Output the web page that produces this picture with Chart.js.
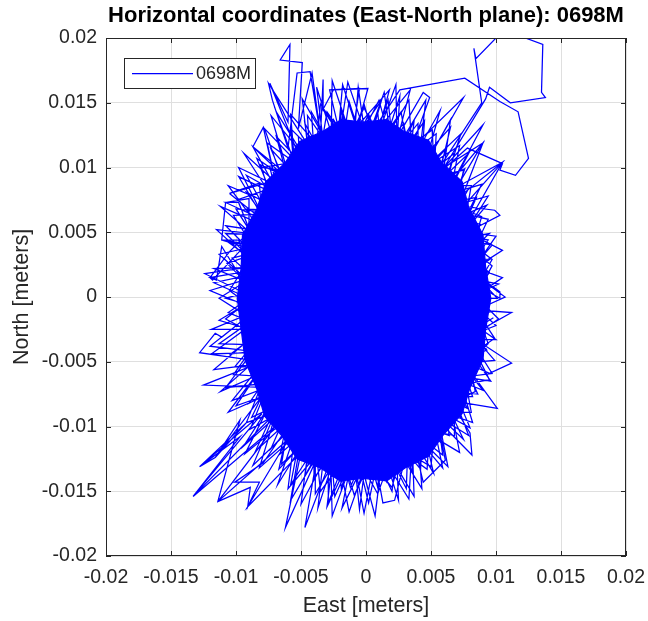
<!DOCTYPE html>
<html><head><meta charset="utf-8">
<script src="https://cdn.jsdelivr.net/npm/chart.js@4.4.0/dist/chart.umd.min.js"></script>
<style>html,body{margin:0;padding:0;background:#fff;}canvas{display:block;}</style>
</head><body>
<canvas id="c" width="648" height="621"></canvas>
<script>
const seriesLabel = '0698M';
const titleText = 'Horizontal coordinates (East-North plane): 0698M';
const xAxisTitle = 'East [meters]';
const yAxisTitle = 'North [meters]';
const xTickValues = [-0.02,-0.015,-0.01,-0.005,0,0.005,0.01,0.015,0.02];
const xTickLabels = ['-0.02','-0.015','-0.01','-0.005','0','0.005','0.01','0.015','0.02'];
const yTickValues = [-0.02,-0.015,-0.01,-0.005,0,0.005,0.01,0.015,0.02];
const yTickLabels = ['-0.02','-0.015','-0.01','-0.005','0','0.005','0.01','0.015','0.02'];

// track segments (meters)
const lap1East = [-0.0030,-0.0111,-0.0108,-0.0090,-0.0090,-0.0118,-0.0120,-0.0105,-0.0080,-0.0105,
-0.0099,-0.0070,-0.0087,-0.0065,-0.0080,-0.0050,-0.0074,-0.0060,-0.00585,-0.0066,
-0.0049,-0.0052,-0.00415,-0.0035,-0.0033,-0.0033,-0.0025,0.00015,-0.0010,0.0012,
0.0005,0.0026,0.0076,0.0103,0.0117,0.0125,0.0115,0.0103,0.0105,0.0078,
0.0050,0.0089,0.0083,0.00845,0.0101,0.0120,0.0136,0.0135,0.0138,0.0111,
0.0095,0.0092,0.0060,0.0090,0.0070,0.0105,0.0075,0.0099,0.0103,0.0078,
0.0105,0.0080,0.0107,0.0085,0.0112,0.0080,0.0112,0.0095,0.0075,0.0101,
0.0065,0.0080,0.00815,0.0055,0.0061,0.0044,0.0035,0.0022,0.0013,0.0005,
-0.00185,-0.0010,-0.0030,-0.0025,-0.0047,-0.0038,-0.0062,-0.0050,-0.0091,-0.0060,
-0.0114,-0.0070,-0.0133,-0.0080,-0.0128,-0.0116,-0.0075,-0.0125,-0.0080,-0.0128,
-0.0116,-0.0111,-0.0085,-0.0105];
const lap1North = [0.0020,0.0044,0.0073,0.0076,0.0043,0.0013,0.0015,0.0035,0.0060,0.0080,
0.0075,0.0085,0.0116,0.0098,0.0100,0.0105,0.0165,0.0135,0.0195,0.0183,
0.0181,0.0130,0.0173,0.0125,0.0168,0.0145,0.0160,0.0161,0.0120,0.0152,
0.0128,0.0160,0.0169,0.0151,0.0143,0.0107,0.0094,0.0098,0.0103,0.0115,
0.0090,0.0150,0.0192,0.0184,0.0201,0.0201,0.0195,0.0158,0.0154,0.0150,
0.0162,0.0153,0.0100,0.0119,0.0085,0.0104,0.0070,0.0067,0.0063,0.0050,
0.0036,0.0020,0.0000,-0.0010,-0.0012,-0.0030,-0.0051,-0.0059,-0.0050,-0.0086,
-0.0080,-0.0105,-0.0122,-0.0095,-0.0126,-0.0143,-0.0105,-0.0157,-0.0159,-0.0115,
-0.0163,-0.0120,-0.0162,-0.0120,-0.0178,-0.0125,-0.0178,-0.0120,-0.0162,-0.0110,
-0.0158,-0.0100,-0.0154,-0.0090,-0.0131,-0.0124,-0.0070,-0.0068,-0.0050,-0.0043,
-0.0028,-0.0031,-0.0010,0.0005];

const lap7East = [-0.0040,-0.0075,-0.0072,-0.0060,-0.0053,-0.0043,-0.0035,-0.0033,-0.0034,-0.0020,
-0.0028,-0.0005,-0.0010,0.0018,0.0010,0.0034,0.0025,0.0044,0.0049,0.0035,
0.0075,0.0050,0.0065,0.0060,0.0090,0.0070,0.0090,0.0075,0.0105,0.0080,
0.0020,-0.0065,-0.0087,-0.0079,-0.0070,-0.0105,-0.0082,-0.0080,-0.0108,-0.0098,
-0.0085,-0.0111,-0.0098,-0.0090,-0.0120,-0.0115,-0.0111,-0.0090];
const lap7North = [0.0110,0.0165,0.0152,0.0115,0.0173,0.0174,0.0125,0.0168,0.0146,0.0125,
0.0160,0.0161,0.0128,0.0160,0.0130,0.0160,0.0125,0.0158,0.0154,0.0115,
0.0154,0.0110,0.0137,0.0100,0.0133,0.0095,0.0119,0.0080,0.0104,0.0060,
0.0080,0.0095,0.0116,0.0131,0.0090,0.0080,0.0088,0.0060,0.0073,0.0073,
0.0040,0.0044,0.0044,0.0020,0.0015,0.0013,0.0039,0.0005];

const lap8East = [-0.0070,-0.0133,-0.0097,-0.0128,-0.0092,-0.0116,-0.0097,-0.0114,-0.0089,-0.0091,-0.0082,-0.0101,-0.0079,-0.0060];
const lap8North = [-0.0090,-0.0154,-0.0108,-0.0131,-0.0097,-0.0124,-0.0095,-0.0158,-0.0147,-0.0162,-0.0143,-0.0143,-0.0128,-0.0100];

const lap2East = [0.0078,0.0102,0.0077,0.0095,0.0074,0.0095,0.0071,0.0093,0.0065,0.0078,
0.0059,0.0079,0.0051,0.0062,0.0043,0.0057,0.0033,0.0037,0.0023,0.0026,
0.0012,0.0009,0.0001,-0.0006,-0.0010,-0.0019,-0.0021,-0.0038,-0.0031,-0.0047,
-0.0041,-0.0069,-0.0050,-0.0073,-0.0058,-0.0094,-0.0065,-0.0092,-0.0071,-0.0112,
-0.0076,-0.0107,-0.0079,-0.0117,-0.0080,-0.0108,-0.0080,-0.0119,-0.0079,-0.0104,
-0.0076,-0.0112,-0.0071,-0.0090,-0.0065,-0.0094,-0.0058,-0.0073,-0.0050,-0.0068,
-0.0041,-0.0047,-0.0031,-0.0037,-0.0021,-0.0019,-0.0010,-0.0005,0.0001,0.0009,
0.0012,0.0025,0.0023,0.0036,0.0033,0.0052,0.0043,0.0059,0.0051,0.0075,
0.0059,0.0078,0.0065,0.0090,0.0071,0.0090,0.0074,0.0100,0.0077,0.0097];
const lap2North = [-0.0001,0.0010,0.0015,0.0029,0.0030,0.0049,0.0045,0.0071,0.0059,0.0082,
0.0072,0.0111,0.0084,0.0115,0.0094,0.0144,0.0101,0.0136,0.0107,0.0155,
0.0111,0.0143,0.0113,0.0162,0.0112,0.0144,0.0109,0.0162,0.0105,0.0134,
0.0098,0.0143,0.0089,0.0114,0.0078,0.0111,0.0066,0.0081,0.0052,0.0070,
0.0038,0.0043,0.0023,0.0022,0.0007,-0.0001,-0.0009,-0.0025,-0.0025,-0.0044,
-0.0041,-0.0073,-0.0055,-0.0082,-0.0069,-0.0115,-0.0082,-0.0117,-0.0092,-0.0145,
-0.0101,-0.0138,-0.0109,-0.0163,-0.0114,-0.0148,-0.0116,-0.0164,-0.0117,-0.0147,
-0.0115,-0.0157,-0.0111,-0.0135,-0.0105,-0.0136,-0.0097,-0.0114,-0.0087,-0.0110,
-0.0076,-0.0086,-0.0062,-0.0072,-0.0048,-0.0050,-0.0033,-0.0033,-0.0017,-0.0011];

const lap3East = [0.0088,0.0099,0.0084,0.0095,0.0077,0.0081,0.0066,0.0072,0.0052,0.0050,
0.0035,0.0033,0.0017,0.0009,-0.00015,-0.0013,-0.0020,-0.0035,-0.0038,-0.0060,
-0.0055,-0.0082,-0.0069,-0.0092,-0.0080,-0.0108,-0.0087,-0.0120,-0.0091,-0.0113,
-0.0091,-0.0113,-0.0087,-0.0102,-0.0080,-0.0098,-0.0069,-0.0076,-0.0055,-0.0058,
-0.0038,-0.0035,-0.0020,-0.0014,-0.00015,0.0010,0.0017,0.0033,0.0035,0.0051,
0.0052,0.0072,0.0066,0.0081,0.0077,0.0094,0.0084,0.0097,0.0088,0.0101];
const lap3North = [-0.0015,-0.0032,-0.0042,-0.0064,-0.0067,-0.0089,-0.0089,-0.0120,-0.0108,-0.0131,
-0.0122,-0.0156,-0.0130,-0.0152,-0.0133,-0.0166,-0.0130,-0.0150,-0.0122,-0.0148,
-0.0108,-0.0132,-0.0089,-0.0097,-0.0067,-0.0070,-0.0042,-0.0038,-0.0015,-0.0001,
0.0013,0.0033,0.0039,0.0063,0.0064,0.0100,0.0086,0.0119,0.0104,0.0141,
0.0118,0.0149,0.0126,0.0166,0.0129,0.0152,0.0126,0.0152,0.0118,0.0129,
0.0104,0.0117,0.0086,0.0086,0.0064,0.0060,0.0039,0.0029,0.0013,-0.0001];

const lap4East = [0.0087,0.0100,0.0085,0.0093,0.0082,0.0096,0.0077,0.0082,0.0070,0.0080,
0.0062,0.0064,0.0053,0.0059,0.0043,0.0042,0.0032,0.0031,0.0020,0.0016,
0.0008,0.0002,-0.0005,-0.0012,-0.0017,-0.0029,-0.0029,-0.0040,-0.0040,-0.0058,
-0.0051,-0.0066,-0.0061,-0.0085,-0.0069,-0.0088,-0.0077,-0.0103,-0.0082,-0.0101,
-0.0087,-0.0113,-0.0089,-0.0106,-0.0090,-0.0117,-0.0089,-0.0103,-0.0087,-0.0108,
-0.0082,-0.0092,-0.0077,-0.0092,-0.0069,-0.0074,-0.0061,-0.0069,-0.0051,-0.0052,
-0.0040,-0.0042,-0.0029,-0.0025,-0.0017,-0.0013,-0.0005,0.0002,0.0008,0.0017,
0.0020,0.0029,0.0032,0.0045,0.0043,0.0053,0.0053,0.0068,0.0062,0.0073,
0.0070,0.0085,0.0077,0.0088,0.0082,0.0097,0.0085,0.0095,0.0087,0.0103];
const lap4North = [-0.0010,-0.0022,-0.0028,-0.0041,-0.0045,-0.0065,-0.0062,-0.0077,-0.0077,-0.0101,
-0.0091,-0.0107,-0.0103,-0.0132,-0.0113,-0.0133,-0.0121,-0.0148,-0.0126,-0.0143,
-0.0130,-0.0159,-0.0130,-0.0147,-0.0128,-0.0159,-0.0124,-0.0140,-0.0117,-0.0145,
-0.0108,-0.0121,-0.0097,-0.0119,-0.0084,-0.0093,-0.0070,-0.0080,-0.0054,-0.0054,
-0.0037,-0.0036,-0.0019,-0.0012,-0.0001,0.0011,0.0017,0.0030,0.0034,0.0055,
0.0051,0.0068,0.0067,0.0094,0.0081,0.0100,0.0094,0.0124,0.0105,0.0124,
0.0113,0.0143,0.0120,0.0137,0.0124,0.0151,0.0126,0.0141,0.0126,0.0152,
0.0123,0.0134,0.0117,0.0136,0.0109,0.0116,0.0099,0.0111,0.0088,0.0090,
0.0074,0.0077,0.0059,0.0056,0.0043,0.0040,0.0026,0.0019,0.0008,-0.0001];

const lap5East = [0.0082,0.0105,0.0080,0.0094,0.0075,0.0094,0.0066,0.0076,0.0055,0.0065,
0.0040,0.0040,0.0024,0.0023,0.0007,-0.00015,-0.0010,-0.0026,-0.0027,-0.0045,
-0.0043,-0.0073,-0.0058,-0.0084,-0.0069,-0.0106,-0.0078,-0.0108,-0.0083,-0.0124,
-0.0085,-0.0113,-0.0083,-0.0117,-0.0078,-0.0100,-0.0069,-0.0093,-0.0058,-0.0067,
-0.0043,-0.0050,-0.0027,-0.0024,-0.0010,-0.00015,0.0007,0.0020,0.0024,0.0043,
0.0040,0.0059,0.0055,0.0079,0.0066,0.0086,0.0075,0.0099,0.0080,0.0098];
const lap5North = [-0.0001,0.0015,0.0024,0.0044,0.0048,0.0078,0.0070,0.0099,0.0089,0.0131,
0.0103,0.0134,0.0114,0.0164,0.0119,0.0149,0.0119,0.0167,0.0114,0.0140,
0.0103,0.0140,0.0089,0.0107,0.0070,0.0086,0.0048,0.0049,0.0024,0.0018,
-0.0001,-0.0018,-0.0027,-0.0056,-0.0051,-0.0084,-0.0073,-0.0121,-0.0092,-0.0133,
-0.0107,-0.0160,-0.0117,-0.0154,-0.0123,-0.0167,-0.0123,-0.0150,-0.0117,-0.0148,
-0.0107,-0.0122,-0.0092,-0.0107,-0.0073,-0.0075,-0.0051,-0.0049,-0.0027,-0.0016];

const lap6East = [0.0103,0.0091,0.0097,0.0089,0.0100,0.0085,0.0089,0.0079,0.0089,0.0072,
0.0075,0.0063,0.0073,0.0053,0.0054,0.0042,0.0046,0.0030,0.0027,0.0018,
0.0014,0.0005,-0.00015,-0.0008,-0.0018,-0.0021,-0.0030,-0.0033,-0.0049,-0.0045,
-0.0058,-0.0056,-0.0078,-0.0066,-0.0081,-0.0075,-0.0098,-0.0082,-0.0100,-0.0088,
-0.0115,-0.0092,-0.0107,-0.0094,-0.0120,-0.0094,-0.0108,-0.0093,-0.0119,-0.0090,
-0.0102,-0.0085,-0.0106,-0.0079,-0.0089,-0.0071,-0.0087,-0.0061,-0.0065,-0.0051,
-0.0058,-0.0039,-0.0039,-0.0027,-0.0026,-0.0014,-0.0009,-0.00015,0.0007,0.0011,
0.0020,0.0024,0.0037,0.0036,0.0047,0.0048,0.0063,0.0058,0.0068,0.0068,
0.0082,0.0076,0.0084,0.0082,0.0097,0.0087,0.0094,0.0090,0.0102,0.0091];
const lap6North = [0.0004,0.0013,0.0024,0.0031,0.0047,0.0049,0.0062,0.0066,0.0087,0.0082,
0.0098,0.0095,0.0126,0.0107,0.0126,0.0117,0.0152,0.0125,0.0143,0.0130,
0.0158,0.0133,0.0146,0.0133,0.0164,0.0130,0.0143,0.0125,0.0153,0.0117,
0.0130,0.0107,0.0130,0.0095,0.0102,0.0082,0.0093,0.0066,0.0068,0.0049,
0.0052,0.0031,0.0026,0.0013,0.0005,-0.0006,-0.0017,-0.0025,-0.0044,-0.0043,
-0.0060,-0.0061,-0.0089,-0.0077,-0.0102,-0.0092,-0.0130,-0.0105,-0.0129,-0.0116,
-0.0157,-0.0125,-0.0152,-0.0132,-0.0169,-0.0136,-0.0153,-0.0137,-0.0169,-0.0136,
-0.0147,-0.0132,-0.0154,-0.0125,-0.0133,-0.0116,-0.0131,-0.0105,-0.0107,-0.0092,
-0.0097,-0.0077,-0.0073,-0.0061,-0.0059,-0.0043,-0.0036,-0.0025,-0.0017,-0.0006];

// outline of the saturated core of the track (meters)
const coreEast = [0.0096,0.0092,0.0090,0.0079,0.0074,0.0058,0.0048,0.0029,0.0016,-0.0002,-0.0019,-0.0033,-0.0051,-0.0062,-0.0077,-0.0084,-0.0095,-0.0096,-0.0099,-0.0096,-0.0093,-0.0084,-0.0078,-0.0064,-0.0053,-0.0035,-0.0020,-0.0002,0.0016,0.0030,0.0048,0.0059,0.0074,0.0080,0.0090,0.0092,0.0096];
const coreNorth = [-0.0001,0.0023,0.0048,0.0069,0.0089,0.0104,0.0121,0.0128,0.0137,0.0135,0.0137,0.0128,0.0120,0.0104,0.0089,0.0068,0.0048,0.0023,-0.0001,-0.0025,-0.0049,-0.0071,-0.0092,-0.0108,-0.0125,-0.0132,-0.0142,-0.0140,-0.0142,-0.0132,-0.0123,-0.0107,-0.0090,-0.0070,-0.0048,-0.0025,-0.0001];

const pathEast = lap1East.concat(lap7East, lap8East, lap2East, lap4East, lap6East, lap3East, lap5East);
const pathNorth = lap1North.concat(lap7North, lap8North, lap2North, lap4North, lap6North, lap3North, lap5North);
const toPts = (xs, ys) => xs.map((v, i) => ({x: v, y: ys[i]}));

const FONT = '"Liberation Sans", Arial, Helvetica, sans-serif';
const TXT = '#262626';
const BLUE = '#0000ff';
const LW = 1.25;

const decor = {
  id: 'decor',
  afterDraw(chart) {
    const {ctx, chartArea: a, scales: {x, y}} = chart;
    ctx.save();
    ctx.strokeStyle = TXT; ctx.lineWidth = 1;
    ctx.beginPath();
    xTickValues.forEach(v => {
      const px = Math.round(x.getPixelForValue(v)) + 0.5;
      ctx.moveTo(px, a.bottom); ctx.lineTo(px, a.bottom - 5);
      ctx.moveTo(px, a.top); ctx.lineTo(px, a.top + 5);
    });
    yTickValues.forEach(v => {
      const py = Math.round(y.getPixelForValue(v)) + 0.5;
      ctx.moveTo(a.left, py); ctx.lineTo(a.left + 5, py);
      ctx.moveTo(a.right, py); ctx.lineTo(a.right - 5, py);
    });
    ctx.stroke();
    ctx.strokeRect(a.left + 0.5, a.top + 0.5, a.right - a.left - 1, a.bottom - a.top - 1);

    ctx.fillStyle = '#000';
    ctx.font = 'bold 22px ' + FONT;
    ctx.textAlign = 'center'; ctx.textBaseline = 'middle';
    ctx.fillText(titleText, (a.left + a.right) / 2, 16);

    ctx.fillStyle = TXT;
    ctx.font = '21.5px ' + FONT;
    ctx.fillText(xAxisTitle, (a.left + a.right) / 2, 606);
    ctx.save();
    ctx.translate(22, (a.top + a.bottom) / 2);
    ctx.rotate(-Math.PI / 2);
    ctx.fillText(yAxisTitle, 0, 0);
    ctx.restore();

    ctx.fillStyle = '#fff';
    ctx.fillRect(125, 59, 130, 29);
    ctx.strokeStyle = TXT; ctx.lineWidth = 1;
    ctx.strokeRect(124.5, 58.5, 131, 30);
    ctx.strokeStyle = BLUE; ctx.lineWidth = LW;
    ctx.beginPath(); ctx.moveTo(132, 73.5); ctx.lineTo(193, 73.5); ctx.stroke();
    ctx.fillStyle = TXT;
    ctx.font = '18px ' + FONT;
    ctx.textAlign = 'left';
    ctx.fillText(chart.data.datasets[0].label, 196, 74);
    ctx.restore();
  }
};

new Chart(document.getElementById('c'), {
  type: 'scatter',
  data: {
    datasets: [
      {label: seriesLabel, data: toPts(pathEast, pathNorth), showLine: true, borderColor: BLUE,
       borderWidth: LW, pointRadius: 0, pointHoverRadius: 0, fill: false, tension: 0, order: 0},
      {label: seriesLabel + ' core', data: toPts(coreEast, coreNorth), showLine: true, borderColor: BLUE,
       backgroundColor: BLUE, borderWidth: LW, pointRadius: 0, pointHoverRadius: 0, fill: 'shape', tension: 0, order: 1}
    ]
  },
  options: {
    responsive: false, animation: false, devicePixelRatio: 1,
    layout: {padding: {top: 38, right: 22, left: 0, bottom: 0}},
    plugins: {legend: {display: false}, tooltip: {enabled: false}, title: {display: false}},
    scales: {
      x: {
        type: 'linear', min: -0.02, max: 0.02,
        afterBuildTicks: s => { s.ticks = xTickValues.map(v => ({value: v})); },
        afterFit: s => { s.height = 65; s.paddingLeft = 0; s.paddingRight = 0; },
        ticks: {callback: (v, i) => xTickLabels[i], font: {family: FONT, size: 19.5}, color: TXT,
                padding: 10, maxRotation: 0, minRotation: 0, autoSkip: false},
        grid: {color: '#dfdfdf', lineWidth: 1, drawTicks: false},
        border: {display: false}
      },
      y: {
        type: 'linear', min: -0.02, max: 0.02,
        afterBuildTicks: s => { s.ticks = yTickValues.map(v => ({value: v})); },
        afterFit: s => { s.width = 106; s.paddingTop = 0; s.paddingBottom = 0; },
        ticks: {callback: (v, i) => yTickLabels[i], font: {family: FONT, size: 19.5}, color: TXT,
                padding: 9, autoSkip: false},
        grid: {color: '#dfdfdf', lineWidth: 1, drawTicks: false},
        border: {display: false}
      }
    }
  },
  plugins: [decor]
});
</script>
</body></html>
